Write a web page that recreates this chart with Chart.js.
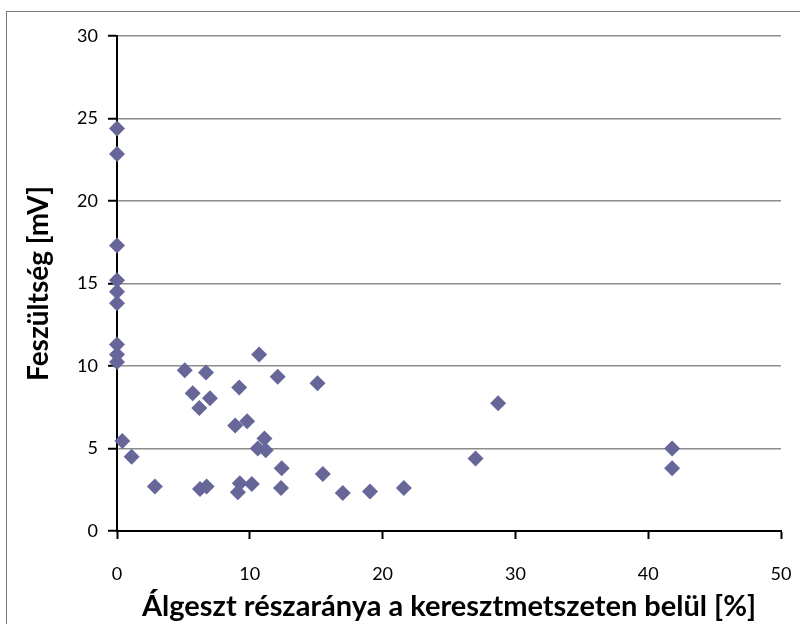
<!DOCTYPE html>
<html>
<head>
<meta charset="utf-8">
<script src="https://cdn.jsdelivr.net/npm/chart.js@4/dist/chart.umd.min.js"></script>
<style>
    html, body { margin: 0; padding: 0; background: #fff; overflow: hidden; }
    #wrap { position: relative; width: 800px; height: 624px; }
    #marco {
        position: absolute; left: 6px; top: 11px; width: 900px; height: 700px;
        border-left: 1px solid #7a7a7a; border-top: 1px solid #7a7a7a;
        pointer-events: none;
    }
    canvas { position: absolute; left: 0; top: 0; }
</style>
</head>
<body>
<div id="wrap">
    <canvas id="grafico" width="800" height="624"></canvas>
    <div id="marco"></div>
</div>
<script>
// -------------------------------
// Datos
// -------------------------------
const algesztPct = [
    0, 0, 0, 0, 0, 0, 0, 0, 0,
    0.4, 1.1, 2.85, 5.1, 5.7, 6.2, 6.7, 7.0, 6.25, 6.75,
    8.9, 9.2, 9.8, 9.1, 9.25, 10.15, 10.7, 10.6, 11.1, 11.2,
    12.1, 12.4, 12.35, 15.1, 15.5, 17.0, 19.05, 21.6, 27.0, 28.7,
    41.8, 41.8
];
const feszultsegMV = [
    24.4, 22.85, 17.3, 15.2, 14.5, 13.8, 11.3, 10.7, 10.25,
    5.45, 4.5, 2.7, 9.75, 8.35, 7.45, 9.6, 8.05, 2.55, 2.7,
    6.4, 8.7, 6.65, 2.35, 2.9, 2.85, 10.7, 5.0, 5.6, 4.9,
    9.35, 3.8, 2.6, 8.95, 3.45, 2.3, 2.4, 2.6, 4.4, 7.75,
    5.0, 3.8
];
const xTicks = [0, 10, 20, 30, 40, 50];
const yTicks = [0, 5, 10, 15, 20, 25, 30];

const puntos = algesztPct.map((x, i) => ({ x: x, y: feszultsegMV[i] }));

// -------------------------------
// Grafico
// -------------------------------
const fuente = "Lato, 'Open Sans', sans-serif";

new Chart(document.getElementById("grafico"), {
    type: "scatter",
    data: {
        datasets: [{
            data: puntos,
            pointStyle: "rectRot",
            pointRadius: 8,
            pointHoverRadius: 8,
            backgroundColor: "#666699",
            borderColor: "#666699",
            borderWidth: 0,
            clip: false
        }]
    },
    options: {
        responsive: false,
        animation: false,
        layout: { padding: { top: 36, right: 19, left: 0, bottom: 0 } },
        plugins: {
            legend: { display: false },
            tooltip: { enabled: false }
        },
        scales: {
            x: {
                type: "linear",
                min: 0,
                max: 50,
                afterBuildTicks: s => { s.ticks = xTicks.map(v => ({ value: v })); },
                afterFit: s => {
                    s.height = 93;
                    s.paddingLeft = 0;
                    s.paddingRight = 0;
                },
                grid: {
                    drawOnChartArea: false,
                    tickColor: "#000",
                    tickLength: 8,
                    tickWidth: 2
                },
                border: { color: "#000", width: 2 },
                ticks: {
                    color: "#000",
                    padding: 24,
                    font: { family: fuente, size: 18 }
                },
                title: {
                    display: true,
                    text: "Álgeszt részaránya a keresztmetszeten belül [%]",
                    color: "#000",
                    padding: { top: 1, bottom: 0 },
                    font: { family: fuente, size: 29, weight: "bold" }
                }
            },
            y: {
                type: "linear",
                min: 0,
                max: 30,
                afterBuildTicks: s => { s.ticks = yTicks.map(v => ({ value: v })); },
                afterFit: s => {
                    s.width = 117;
                    s.paddingTop = 0;
                    s.paddingBottom = 0;
                },
                grid: {
                    color: "#8c8c8c",
                    lineWidth: 1.5,
                    tickColor: "#000",
                    tickLength: 9,
                    tickWidth: 2
                },
                border: { color: "#000", width: 2 },
                ticks: {
                    color: "#000",
                    padding: 10,
                    font: { family: fuente, size: 18 }
                },
                title: {
                    display: true,
                    text: "Feszültség [mV]",
                    color: "#000",
                    padding: { top: 22, bottom: 0 },
                    font: { family: fuente, size: 28, weight: "bold" }
                }
            }
        }
    }
});
</script>
</body>
</html>
